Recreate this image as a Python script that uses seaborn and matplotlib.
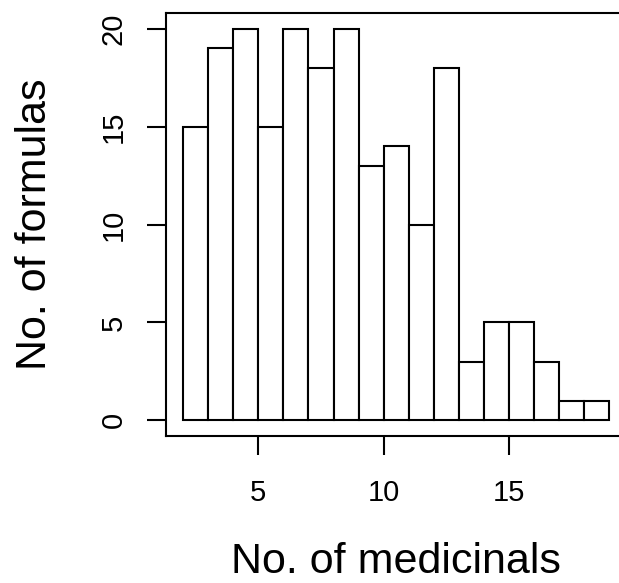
import numpy as np
import pandas as pd
import matplotlib
matplotlib.use("Agg")
import matplotlib.pyplot as plt
import seaborn as sns

# ── Data: left edge of each 1-wide bin and formula counts ─────
bin_left = [2, 3, 4, 5, 6, 7, 8, 9, 10, 11, 12, 13, 14, 15, 16, 17, 18]
counts = [15, 19, 20, 15, 20, 18, 20, 13, 14, 10, 18, 3, 5, 5, 3, 1, 1]
x_ticks = [5, 10, 15]
y_ticks = [0, 5, 10, 15, 20]

df = pd.DataFrame({"medicinals": bin_left, "formulas": counts})

# ── Style (R base graphics look) ─────────────────────────────
sns.set_style("white")
plt.rcParams["font.family"] = ["Liberation Sans", "DejaVu Sans"]
LW = 1.5

fig = plt.figure(figsize=(6.19, 5.83), dpi=100)
ax = fig.add_axes([166 / 619, 1 - 436 / 583, 460.5 / 619, 423 / 583])

sns.histplot(
    data=df, x="medicinals", weights="formulas",
    binwidth=1, binrange=(2, 19),
    color="white", edgecolor="black", linewidth=LW, alpha=1,
    ax=ax,
)

# R pads each axis range by 4%
ax.set_xlim(2 - 0.68, 19 + 0.68)
ax.set_ylim(-0.8, 20.8)

ax.set_xticks(x_ticks)
ax.set_yticks(y_ticks)
ax.set_yticklabels([str(v) for v in y_ticks], rotation=90, va="center")
ax.tick_params(axis="both", direction="out", length=13.7, width=LW,
               color="black", labelsize=21, labelcolor="black",
               bottom=True, left=True, top=False, right=False)
ax.tick_params(axis="x", pad=17)
ax.tick_params(axis="y", pad=14)

for side in ["top", "bottom", "left"]:
    ax.spines[side].set_visible(True)
    ax.spines[side].set_color("black")
    ax.spines[side].set_linewidth(LW)
ax.spines["right"].set_visible(False)

ax.set_xlabel("No. of medicinals", fontsize=31, color="black")
ax.set_ylabel("No. of formulas", fontsize=31, color="black")
ax.xaxis.set_label_coords(0.5, -0.25)
ax.yaxis.set_label_coords(-0.24, 0.5)

fig.savefig("out.png", dpi=100)
